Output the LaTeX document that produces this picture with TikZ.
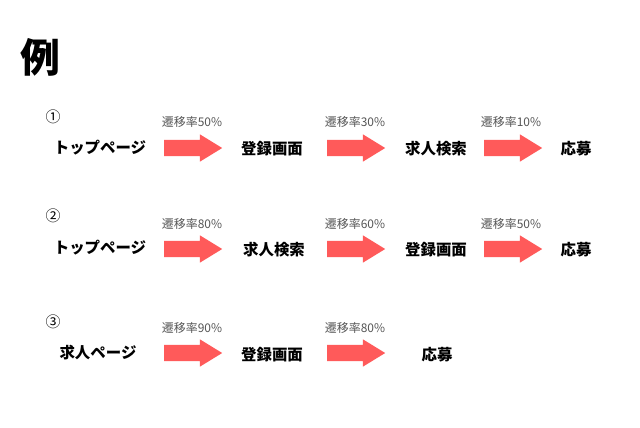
\documentclass[tikz,border=0pt]{standalone}
\usepackage{fontspec}
\usetikzlibrary{shapes.arrows}
\newfontfamily\jp{Noto Sans CJK JP}
\definecolor{arrowred}{HTML}{FF5A5A}
\definecolor{labelgray}{HTML}{555555}
\tikzset{
  pagebox/.style={font=\jp\bfseries\fontsize{15.5}{18}\selectfont, inner sep=0pt},
  ratelabel/.style={font=\jp\fontsize{12}{14}\selectfont, text=labelgray, inner sep=0pt},
  numlabel/.style={font=\jp\fontsize{15}{18}\selectfont, inner sep=0pt},
  flowarrow/.style={single arrow, fill=arrowred, draw=none, minimum height=58bp,
    single arrow head extend=5.5bp, single arrow tip angle=63,
    inner xsep=0pt, inner ysep=8bp, shape border rotate=0, anchor=tail}
}
\begin{document}
\begin{tikzpicture}[x=1bp,y=-1bp]
\useasboundingbox (0,0) rectangle (640,427);
\node[font=\jp\bfseries\fontsize{40}{44}\selectfont, inner sep=0pt] (title) at (40,57) {例};
% row 1
\node[numlabel] (n1) at (53,117) {①};
\node[pagebox] (a1) at (100,148) {トップページ};
\node[flowarrow] (r1a) at (164,148) {};
\node[ratelabel] (l1a) at (192,122) {遷移率50\%};
\node[pagebox] (a2) at (272,149) {登録画面};
\node[flowarrow] (r1b) at (327,148) {};
\node[ratelabel] (l1b) at (355,122) {遷移率30\%};
\node[pagebox] (a3) at (436,149) {求人検索};
\node[flowarrow] (r1c) at (484,148) {};
\node[ratelabel] (l1c) at (511,122) {遷移率10\%};
\node[pagebox] (a4) at (576,149) {応募};
% row 2
\node[numlabel] (n2) at (53,216) {②};
\node[pagebox] (b1) at (100,248) {トップページ};
\node[flowarrow] (r2a) at (164,249) {};
\node[ratelabel] (l2a) at (192,224) {遷移率80\%};
\node[pagebox] (b2) at (274,250) {求人検索};
\node[flowarrow] (r2b) at (327,249) {};
\node[ratelabel] (l2b) at (355,224) {遷移率60\%};
\node[pagebox] (b3) at (436,250) {登録画面};
\node[flowarrow] (r2c) at (484,249) {};
\node[ratelabel] (l2c) at (511,224) {遷移率50\%};
\node[pagebox] (b4) at (576,250) {応募};
% row 3
\node[numlabel] (n3) at (53,322) {③};
\node[pagebox] (c1) at (98,353) {求人ページ};
\node[flowarrow] (r3a) at (164,353) {};
\node[ratelabel] (l3a) at (192,328) {遷移率90\%};
\node[pagebox] (c2) at (272,355) {登録画面};
\node[flowarrow] (r3b) at (327,353) {};
\node[ratelabel] (l3b) at (355,328) {遷移率80\%};
\node[pagebox] (c3) at (437,355) {応募};
\end{tikzpicture}
\end{document}
